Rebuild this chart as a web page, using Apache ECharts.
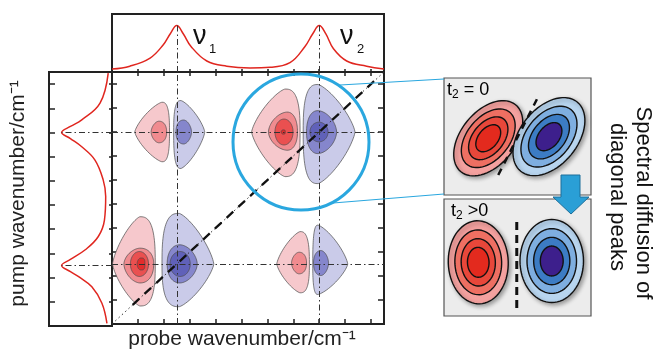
<!DOCTYPE html>
<html>
<head>
<meta charset="utf-8">
<script src="https://cdn.jsdelivr.net/npm/echarts@6/dist/echarts.min.js"></script>
<style>
html,body{margin:0;padding:0;background:#fff}
#chart{width:654px;height:355px}
</style>
</head>
<body>
<div id="chart"></div>
<script>
// diagonal peak positions (probe = pump)
var nu = [2.5, 8.0];

// linear spectra: [probe, intensity] and [intensity, pump]
var topSpec = [[0,0.05],[0.69,0.10],[1.47,0.24],[1.98,0.47],[2.25,0.66],[2.5,0.80],[2.75,0.66],[3.05,0.44],[3.66,0.19],[4.43,0.10],[5.33,0.07],[6.10,0.08],[6.87,0.16],[7.45,0.44],[7.75,0.66],[8.0,0.80],[8.25,0.66],[8.55,0.40],[9.06,0.19],[9.83,0.10],[10.5,0.05]];
var leftSpec = [[0.06,10.45],[0.19,9.21],[0.48,8.52],[0.66,8.25],[0.80,8.0],[0.66,7.75],[0.48,7.41],[0.27,6.86],[0.14,6.04],[0.10,5.35],[0.12,4.38],[0.22,3.69],[0.43,3.14],[0.66,2.75],[0.80,2.5],[0.66,2.25],[0.53,2.04],[0.32,1.62],[0.16,0.94],[0.08,0.11]];

// 2D contours: [centre probe, centre pump, left, right, up, down, level]
var redContours = [
  [1.93, 8.0, 1.05, 0.29, 1.24, 1.24, 0],
  [1.81, 8.0, 0.30, 0.30, 0.45, 0.45, 1],
  [6.68, 8.0, 1.29, 0.58, 1.79, 1.86, 0],
  [6.76, 8.0, 0.72, 0.40, 0.83, 0.76, 1],
  [6.64, 8.0, 0.35, 0.35, 0.54, 0.54, 2],
  [6.61, 8.0, 0.08, 0.08, 0.09, 0.09, 3],
  [1.08, 2.5, 1.06, 0.59, 1.97, 1.75, 0],
  [1.08, 2.5, 0.62, 0.53, 0.66, 0.79, 1],
  [1.06, 2.5, 0.35, 0.35, 0.52, 0.52, 2],
  [1.12, 2.5, 0.15, 0.15, 0.25, 0.25, 3],
  [7.26, 2.5, 0.90, 0.36, 1.35, 1.20, 0],
  [7.22, 2.54, 0.29, 0.29, 0.45, 0.45, 1]
];
var blueContours = [
  [2.66, 8.0, 0.28, 0.92, 1.31, 1.52, 0],
  [2.77, 8.0, 0.30, 0.30, 0.50, 0.50, 1],
  [7.95, 8.0, 0.57, 1.43, 1.98, 2.15, 0],
  [7.95, 8.0, 0.44, 0.72, 0.89, 0.90, 1],
  [7.99, 8.0, 0.35, 0.35, 0.41, 0.41, 2],
  [2.59, 2.5, 0.66, 1.34, 2.11, 1.78, 0],
  [2.63, 2.5, 0.50, 0.66, 0.80, 0.79, 1],
  [2.63, 2.5, 0.39, 0.39, 0.52, 0.52, 2],
  [7.95, 2.5, 0.20, 1.15, 1.62, 1.27, 0],
  [8.07, 2.54, 0.29, 0.29, 0.52, 0.52, 1]
];
var redLevels = ['#f6c8cc', '#f08b8f', '#ea5050', '#e32c2c'];
var blueLevels = ['#cacbe9', '#8586cc', '#6061b9', '#4a4aa8'];

// schematic insets: [x, y, semi-major, semi-minor, angle deg, sign]
var insetT0 = [[3.01, 3.88, 2.95, 1.85, 51, 0], [7.14, 3.99, 3.05, 1.95, 51, 1]];
var insetT1 = [[2.33, 3.67, 2.84, 2.04, 92, 0], [7.33, 3.76, 2.84, 2.16, 90, 1]];
var insetCutT0 = [[3.69, 1.37], [6.41, 6.72]];
var insetCutT1 = [[4.95, 0.55], [4.95, 6.70]];
var ringScale = [1, 0.78, 0.57, 0.36];
var insetRed = ['#f4a19f', '#ee6f62', '#e8473a', '#e32a1e'];
var insetBlue = ['#b8d5ef', '#7eaee0', '#3c7cc4', '#3d1f8c'];

var FONT = '"Liberation Sans", Arial, sans-serif';
var peak = Math.max.apply(null, topSpec.map(function (p) { return p[1]; }));

function contour(colors, tipLeft) {
  return function (params, api) {
    var cx = api.value(0), cy = api.value(1), L = api.value(2), R = api.value(3),
        T = api.value(4), B = api.value(5), lv = api.value(6);
    var pTip = [1.5, 1.15, 1, 1][lv], pFlat = [0.72, 0.9, 1, 0.6][lv];
    var pts = [];
    for (var i = 0; i < 96; i++) {
      var th = i / 96 * Math.PI * 2, c = Math.cos(th), s = Math.sin(th);
      var tipSide = tipLeft ? c < 0 : c > 0;
      var p = tipSide ? pTip : pFlat;
      var dx = (c < 0 ? -L : R) * Math.pow(Math.abs(c), p);
      var dy = (s < 0 ? -B : T) * Math.pow(Math.abs(s), p);
      pts.push(api.coord([cx + dx, cy + dy]));
    }
    return {type: 'polygon', shape: {points: pts},
      style: {fill: colors[lv], stroke: '#4a4a4a', lineWidth: 0.7}};
  };
}

function ellipses(params, api) {
  var c = api.coord([api.value(0), api.value(1)]);
  var sx = api.size([1, 0])[0], sy = api.size([0, 1])[1];
  var a = api.value(2), b = api.value(3), phi = api.value(4) * Math.PI / 180;
  var cols = api.value(5) ? insetBlue : insetRed;
  var kids = [];
  ringScale.forEach(function (k, j) {
    var pts = [];
    for (var i = 0; i < 72; i++) {
      var t = i / 72 * Math.PI * 2;
      var ex = a * k * Math.cos(t), ey = b * k * Math.sin(t);
      var X = ex * Math.cos(phi) - ey * Math.sin(phi);
      var Y = ex * Math.sin(phi) + ey * Math.cos(phi);
      pts.push([c[0] + X * sx, c[1] - Y * sy]);
    }
    var st = {fill: cols[j], stroke: '#111', lineWidth: 1.4};
    if (j === 0) { st.shadowBlur = 4; st.shadowColor = 'rgba(0,0,0,0.35)'; st.shadowOffsetX = 2; st.shadowOffsetY = 2; }
    kids.push({type: 'polygon', shape: {points: pts}, style: st});
  });
  return {type: 'group', children: kids};
}

function frameAxis(grid, pos, len, extra) {
  var o = {gridIndex: grid, type: 'value', min: 0, max: 10.5, interval: 1, position: pos,
    axisLine: {show: true, onZero: false, lineStyle: {color: '#222', width: 2}},
    axisTick: {show: true, inside: true, length: len, lineStyle: {color: '#222', width: 1.5}},
    axisLabel: {show: false}, splitLine: {show: false}};
  for (var k in extra) o[k] = extra[k];
  return o;
}
var dashDot = {type: [6, 3, 1.5, 3], color: '#333', width: 1};
var tRich = {t: {fontSize: 18, fontFamily: FONT, color: '#111'}, s: {fontSize: 12, fontFamily: FONT, color: '#111', padding: [9, 0, 0, 0]}};

var chart = echarts.init(document.getElementById('chart'));
chart.setOption({
  animation: false,
  backgroundColor: '#fff',
  grid: [
    {left: 112, top: 72, width: 272, height: 254, show: true, borderColor: '#222', borderWidth: 2},
    {left: 112, top: 14, width: 272, height: 58, show: true, borderColor: '#222', borderWidth: 2},
    {left: 49, top: 72, width: 63, height: 254, show: true, borderColor: '#222', borderWidth: 2},
    {left: 444, top: 78, width: 147, height: 117, show: true, backgroundColor: '#ececec', borderColor: '#555', borderWidth: 1.2},
    {left: 444, top: 199, width: 147, height: 117, show: true, backgroundColor: '#ececec', borderColor: '#555', borderWidth: 1.2}
  ],
  xAxis: [
    frameAxis(0, 'bottom', 5, {name: 'probe wavenumber/cm⁻¹', nameLocation: 'middle', nameGap: 5,
      nameTextStyle: {fontSize: 21, fontFamily: FONT, color: '#222', padding: [0, 12, 0, 0]}}),
    frameAxis(0, 'top', 4),
    frameAxis(1, 'bottom', 3),
    {gridIndex: 2, type: 'value', min: 0, max: 1, inverse: true, show: false},
    {gridIndex: 3, type: 'value', min: 0, max: 10, show: false},
    {gridIndex: 4, type: 'value', min: 0, max: 10, show: false}
  ],
  yAxis: [
    frameAxis(0, 'left', 5),
    frameAxis(0, 'right', 6),
    {gridIndex: 1, type: 'value', min: 0, max: 1, show: false},
    frameAxis(2, 'left', 6, {name: 'pump wavenumber/cm⁻¹', nameLocation: 'middle', nameGap: 20,
      nameTextStyle: {fontSize: 21, fontFamily: FONT, color: '#222', padding: [0, 0, 0, 11]}}),
    frameAxis(2, 'right', 3),
    {gridIndex: 3, type: 'value', min: 0, max: 8, show: false},
    {gridIndex: 4, type: 'value', min: 0, max: 8, show: false}
  ],
  series: [
    {type: 'custom', xAxisIndex: 0, yAxisIndex: 0, renderItem: contour(redLevels, true),
      encode: {x: 0, y: 1}, data: redContours, silent: true},
    {type: 'custom', xAxisIndex: 0, yAxisIndex: 0, renderItem: contour(blueLevels, false),
      encode: {x: 0, y: 1}, data: blueContours, silent: true},
    {type: 'line', xAxisIndex: 0, yAxisIndex: 0, data: [[0, 0], [10.5, 10.5]], showSymbol: false,
      lineStyle: {color: '#333', width: 1, type: [1.5, 3]}, z: 3,
      markLine: {silent: true, symbol: 'none', label: {show: false}, lineStyle: dashDot,
        data: [{xAxis: nu[0]}, {xAxis: nu[1]}, {yAxis: nu[0]}, {yAxis: nu[1]}]}},
    {type: 'line', xAxisIndex: 0, yAxisIndex: 0, data: [[0.8, 0.8], [10.3, 10.3]], showSymbol: false,
      lineStyle: {color: '#111', width: 2.3, type: [9, 7]}, z: 4},
    {type: 'line', xAxisIndex: 2, yAxisIndex: 2, data: topSpec, smooth: 0.4, showSymbol: false,
      lineStyle: {color: '#e0261f', width: 1.5},
      markLine: {silent: true, symbol: 'none', label: {show: false}, lineStyle: dashDot,
        data: nu.map(function (v) { return [{coord: [v, 0]}, {coord: [v, peak]}]; })}},
    {type: 'line', xAxisIndex: 3, yAxisIndex: 3, data: leftSpec, smooth: 0.4, showSymbol: false,
      lineStyle: {color: '#e0261f', width: 1.5},
      markLine: {silent: true, symbol: 'none', label: {show: false}, lineStyle: dashDot,
        data: nu.map(function (v) { return [{coord: [0, v]}, {coord: [peak, v]}]; })}},
    {type: 'custom', xAxisIndex: 4, yAxisIndex: 5, renderItem: ellipses, encode: {x: 0, y: 1}, data: insetT0, silent: true},
    {type: 'custom', xAxisIndex: 5, yAxisIndex: 6, renderItem: ellipses, encode: {x: 0, y: 1}, data: insetT1, silent: true},
    {type: 'line', xAxisIndex: 4, yAxisIndex: 5, data: insetCutT0, showSymbol: false, z: 5,
      lineStyle: {color: '#111', width: 2.5, type: [7, 6]}},
    {type: 'line', xAxisIndex: 5, yAxisIndex: 6, data: insetCutT1, showSymbol: false, z: 5,
      lineStyle: {color: '#111', width: 3, type: [8, 5]}}
  ],
  graphic: [
    {type: 'circle', z: 100, shape: {cx: 301, cy: 142, r: 68}, style: {fill: 'none', stroke: '#2aa7df', lineWidth: 3}},
    {type: 'line', z: 100, shape: {x1: 340, y1: 85, x2: 444, y2: 79}, style: {stroke: '#2aa7df', lineWidth: 1.2}},
    {type: 'line', z: 100, shape: {x1: 333, y1: 203, x2: 444, y2: 194}, style: {stroke: '#2aa7df', lineWidth: 1.2}},
    {type: 'polygon', z: 100, shape: {points: [[561, 175], [580, 175], [580, 197], [589, 197], [571, 214], [553, 197], [561, 197]]},
      style: {fill: '#2a9fd6', stroke: '#1d6f9a', lineWidth: 1}},
    {type: 'text', z: 100, x: 193, y: 37, style: {text: 'ν', font: '27px ' + FONT, fill: '#111', verticalAlign: 'middle'}},
    {type: 'text', z: 100, x: 209, y: 49, style: {text: '1', font: '13px ' + FONT, fill: '#111', verticalAlign: 'middle'}},
    {type: 'text', z: 100, x: 340, y: 37, style: {text: 'ν', font: '27px ' + FONT, fill: '#111', verticalAlign: 'middle'}},
    {type: 'text', z: 100, x: 357, y: 49, style: {text: '2', font: '13px ' + FONT, fill: '#111', verticalAlign: 'middle'}},
    {type: 'text', z: 100, x: 447, y: 90, style: {text: '{t|t}{s|2}{t| = 0}', verticalAlign: 'middle', rich: tRich}},
    {type: 'text', z: 100, x: 451, y: 211, style: {text: '{t|t}{s|2}{t| >0}', verticalAlign: 'middle', rich: tRich}},
    {type: 'text', z: 100, x: 643, y: 203, rotation: -Math.PI / 2,
      style: {text: 'Spectral diffusion of', font: '22px ' + FONT, fill: '#111', align: 'center', verticalAlign: 'middle'}},
    {type: 'text', z: 100, x: 617, y: 197, rotation: -Math.PI / 2,
      style: {text: 'diagonal peaks', font: '22px ' + FONT, fill: '#111', align: 'center', verticalAlign: 'middle'}}
  ]
});
</script>
</body>
</html>
